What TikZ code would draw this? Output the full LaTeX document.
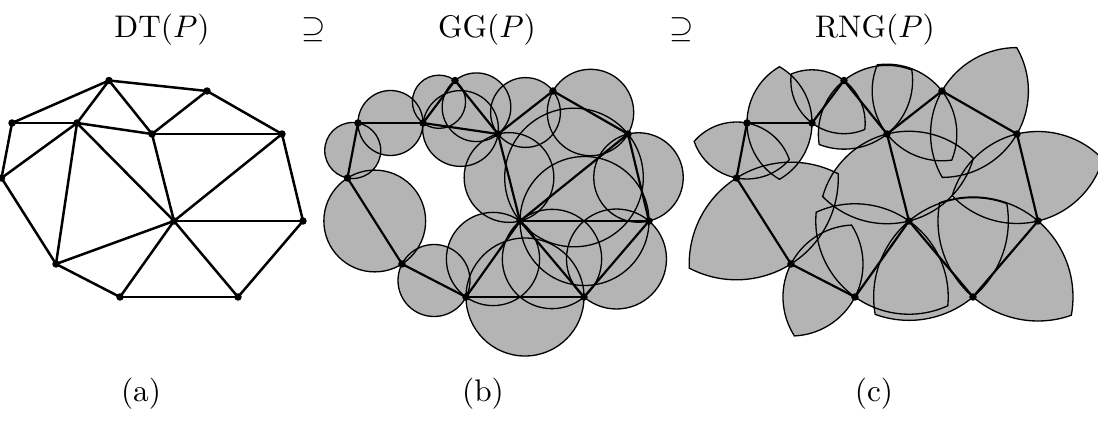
\documentclass[tikz,border=0pt]{standalone}
\usetikzlibrary{calc}
\definecolor{regiongray}{RGB}{180,180,180}
\newcommand\gabrieldisk[3]{%
  \path[#1] let \p1=(#2), \p2=(#3), \n1={veclen(\x2-\x1,\y2-\y1)/2} in
    ($(\p1)!0.5!(\p2)$) circle[radius=\n1];}
\newcommand\rnglune[3]{%
  \path[#1] let \p1=(#2), \p2=(#3), \n1={veclen(\x2-\x1,\y2-\y1)},
    \n2={atan2(\y2-\y1,\x2-\x1)} in
    (\p1) ++(\n2-60:\n1)
    arc[start angle=\n2-60, end angle=\n2+60, radius=\n1]
    arc[start angle=\n2+120, end angle=\n2+240, radius=\n1] -- cycle;}
\begin{document}
\begin{tikzpicture}[x=0.32pt,y=-0.32pt,
  dtedge/.style={line width=0.8pt},
  gedge/.style={line width=0.7pt},
  dot/.style={circle, fill=black, inner sep=0pt, minimum size=2.4pt},
  regionfill/.style={fill=regiongray},
  regionrim/.style={draw=black, line width=0.42pt},
  lbl/.style={anchor=base, inner sep=0pt}]
\useasboundingbox (0,0) rectangle (1098,429);

% point set, three copies
\foreach \p/\x/\y in {A/109/80.5, B/207/91, C/12/123, D/77/123, E/152/134,
  F/282/134, G/1.5/178, H/174/221, I/303/221, J/56/264, K/120/297, L/238/297} {
  \coordinate (a\p) at (\x,\y);
  \coordinate (b\p) at (\x+346,\y);
  \coordinate (c\p) at (\x+735,\y);
}

% titles and captions
\node[lbl] (t1) at (162,37.5) {DT$(P)$};
\node[lbl] (s1) at (314,37.5) {$\supseteq$};
\node[lbl] (t2) at (487,37.5) {GG$(P)$};
\node[lbl] (s2) at (682,37.5) {$\supseteq$};
\node[lbl] (t3) at (875,37.5) {RNG$(P)$};
\node[lbl] (capa) at (141,402) {(a)};
\node[lbl] (capb) at (483,402) {(b)};
\node[lbl] (capc) at (874,402) {(c)};

% (a) Delaunay triangulation
\foreach \u/\v in {A/B, A/C, A/D, A/E, B/E, B/F, C/D, C/G, D/G, D/E, D/H, D/J,
  E/F, E/H, F/H, F/I, G/J, H/I, H/J, H/K, H/L, I/L, J/K, K/L}
  \draw[dtedge] (a\u) -- (a\v);
\foreach \p in {A,B,C,D,E,F,G,H,I,J,K,L}
  \node[dot] (pa\p) at (a\p) {};

% (b) Gabriel graph
\def\gglist{A/D, A/E, B/E, B/F, C/D, C/G, D/E, E/H, F/H, F/I, G/J, H/I, H/K,
  H/L, I/L, J/K, K/L}
\foreach \u/\v in \gglist \gabrieldisk{regionfill}{b\u}{b\v};
\foreach \u/\v in \gglist \gabrieldisk{regionrim}{b\u}{b\v};
\foreach \u/\v in \gglist \draw[gedge] (b\u) -- (b\v);
\foreach \p in {A,B,C,D,E,F,G,H,I,J,K,L}
  \node[dot] (pb\p) at (b\p) {};

% (c) relative neighbourhood graph
\def\rnglist{A/D, A/E, B/E, B/F, C/D, C/G, E/H, F/I, G/J, H/K, H/L, I/L, J/K}
\foreach \u/\v in \rnglist \rnglune{regionfill}{c\u}{c\v};
\foreach \u/\v in \rnglist \rnglune{regionrim}{c\u}{c\v};
\foreach \u/\v in \rnglist \draw[gedge] (c\u) -- (c\v);
\foreach \p in {A,B,C,D,E,F,G,H,I,J,K,L}
  \node[dot] (pc\p) at (c\p) {};
\end{tikzpicture}
\end{document}
